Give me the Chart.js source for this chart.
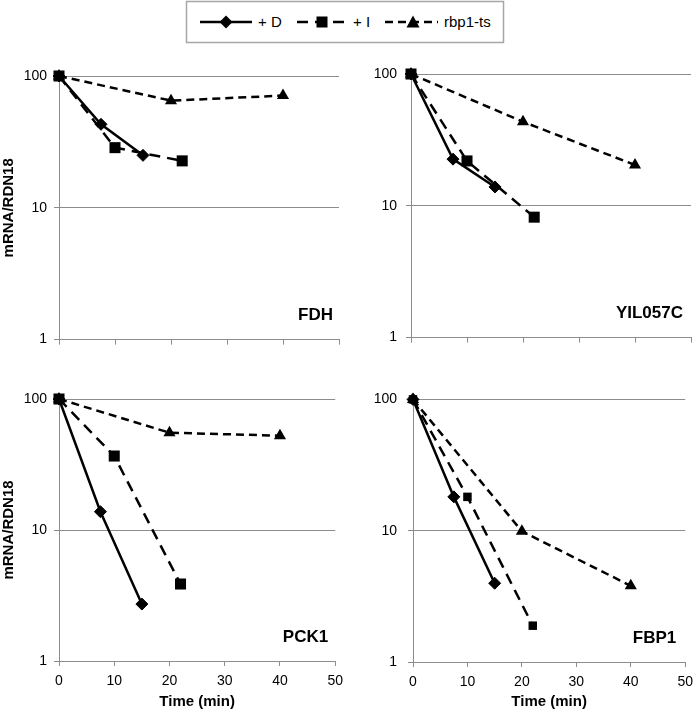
<!DOCTYPE html>
<html>
<head>
<meta charset="utf-8">
<script src="https://cdn.jsdelivr.net/npm/chart.js@4.4.1/dist/chart.umd.min.js"></script>
<style>
  body { margin: 0; background: #fff; }
  #page { position: relative; width: 700px; height: 715px; overflow: hidden; }
  canvas { position: absolute; }
  #legend { position: absolute; left: 0; top: 0; }
</style>
</head>
<body>
<div id="page">
  <svg id="legend" width="700" height="46"></svg>
  <canvas id="fdh" style="left:0;top:55px" width="350" height="300"></canvas>
  <canvas id="yil" style="left:350px;top:55px" width="350" height="300"></canvas>
  <canvas id="pck" style="left:0;top:380px" width="350" height="335"></canvas>
  <canvas id="fbp" style="left:350px;top:380px" width="350" height="335"></canvas>
</div>
<script>
// series names and time points (min)
const seriesNames = ['+ D', '+ I', 'rbp1-ts'];
const timeD = [0, 7.5, 15];
const timeI = [0, 10, 22];
const timeR = [0, 20, 40];

// mRNA/RDN18 values
const fdhD = [100, 43, 25];
const fdhI = [100, 28.6, 22.7];
const fdhR = [100, 65, 71];

const yilD = [100, 22.6, 13.9];
const yilI = [100, 21.9, 8.2];
const yilR = [100, 43.4, 20.4];

const pckD = [100, 13.8, 2.72];
const pckI = [100, 36.7, 3.87];
const pckR = [100, 55.3, 52.5];

const fbpD = [100, 18.1, 3.98];
const fbpI = [100, 18.1, 1.89];
const fbpR = [100, 9.9, 3.8];

const yTicks = [1, 10, 100];
const xTicks = [0, 10, 20, 30, 40, 50];

const FONT = '"Liberation Sans", Arial, Helvetica, sans-serif';
const GRID = '#8c8c8c';

// legend drawn as svg
function buildLegend() {
    const svg = document.getElementById('legend');
    const ns = 'http://www.w3.org/2000/svg';
    const add = (tag, attrs, text) => {
        const el = document.createElementNS(ns, tag);
        for (const k in attrs) el.setAttribute(k, attrs[k]);
        if (text) el.textContent = text;
        svg.appendChild(el);
        return el;
    };
    add('rect', {x: 186.5, y: 1.5, width: 317, height: 41, fill: '#fff', stroke: '#a6a6a6', 'stroke-width': 1.5});
    const cy = 22;
    const items = [
        {x1: 200, x2: 252, mx: 226, tx: 258, dash: null, marker: 'diamond'},
        {x1: 297, x2: 348, mx: 322, tx: 353, dash: '11 7', marker: 'square'},
        {x1: 385, x2: 438, mx: 413, tx: 444, dash: '8 5', marker: 'triangle'}
    ];
    items.forEach((it, i) => {
        const line = {x1: it.x1, x2: it.x2, y1: cy, y2: cy, stroke: '#000', 'stroke-width': 2.6};
        if (it.dash) line['stroke-dasharray'] = it.dash;
        add('line', line);
        if (it.marker === 'diamond') {
            add('polygon', {points: `${it.mx - 6.5},${cy} ${it.mx},${cy - 6.5} ${it.mx + 6.5},${cy} ${it.mx},${cy + 6.5}`, fill: '#000'});
        } else if (it.marker === 'square') {
            add('rect', {x: it.mx - 5.5, y: cy - 5.5, width: 11, height: 11, fill: '#000'});
        } else {
            add('polygon', {points: `${it.mx - 6.5},${cy + 5.5} ${it.mx},${cy - 6.5} ${it.mx + 6.5},${cy + 5.5}`, fill: '#000'});
        }
        add('text', {x: it.tx, y: cy + 5, 'font-family': FONT, 'font-size': 15, fill: '#000'}, seriesNames[i]);
    });
}

// gene name in the lower right corner of the plot
const geneLabel = {
    id: 'geneLabel',
    afterDatasetsDraw(chart, args, opts) {
        const {ctx, chartArea} = chart;
        ctx.save();
        ctx.font = 'bold 17px ' + FONT;
        ctx.fillStyle = '#000';
        ctx.textAlign = 'right';
        ctx.textBaseline = 'middle';
        ctx.fillText(opts.text, chartArea.right - opts.dx, chartArea.bottom - opts.dy);
        ctx.restore();
    }
};

function pts(xs, ys) {
    return xs.map((x, i) => ({x: x, y: ys[i]}));
}

function makePanel(id, gene, dVals, iVals, rVals, p) {
    new Chart(document.getElementById(id), {
        type: 'line',
        data: {
            datasets: [
                {
                    label: seriesNames[0], data: pts(timeD, dVals), order: 1, clip: false,
                    borderColor: '#000', backgroundColor: '#000', borderWidth: 2.5,
                    pointStyle: 'rectRot', pointRadius: 6, pointBorderWidth: 1
                },
                {
                    label: seriesNames[1], data: pts(timeI, iVals), order: 0, clip: false,
                    borderColor: '#000', backgroundColor: '#000', borderWidth: 2.5, borderDash: [11, 7],
                    pointStyle: 'rect', pointRadius: p.sq || 7.8, pointBorderWidth: 0
                },
                {
                    label: seriesNames[2], data: pts(timeR, rVals), order: 2, clip: false,
                    borderColor: '#000', backgroundColor: '#000', borderWidth: 2.5, borderDash: [8, 5],
                    pointStyle: 'triangle', pointRadius: 7, pointBorderWidth: 0
                }
            ]
        },
        options: {
            responsive: false,
            animation: false,
            layout: {padding: {top: p.top, right: p.right, left: 0, bottom: 0}},
            plugins: {
                legend: {display: false},
                tooltip: {enabled: false},
                geneLabel: {text: gene, dx: p.dx, dy: 24}
            },
            scales: {
                x: {
                    type: 'linear', min: 0, max: 50,
                    afterBuildTicks: (s) => { s.ticks = xTicks.map(v => ({value: v})); },
                    afterFit: (s) => { s.height = p.xh; },
                    grid: {drawOnChartArea: false, color: GRID, tickLength: 5, lineWidth: 1},
                    border: {color: GRID, width: 1},
                    ticks: {
                        display: p.xlabels, color: '#000', padding: 7,
                        font: {family: FONT, size: 14}, maxRotation: 0
                    },
                    title: {
                        display: p.xlabels, text: 'Time (min)', color: '#000',
                        font: {family: FONT, size: 15, weight: 'bold'}, padding: {top: 0, bottom: 4}
                    }
                },
                y: {
                    type: 'logarithmic', min: 1, max: 100,
                    afterBuildTicks: (s) => { s.ticks = yTicks.map(v => ({value: v})); },
                    afterFit: (s) => { s.width = p.yw; },
                    grid: {color: GRID, tickLength: 5, lineWidth: 1},
                    border: {color: GRID, width: 1},
                    ticks: {
                        color: '#000', padding: p.ypad,
                        font: {family: FONT, size: 14},
                        callback: (v) => String(v)
                    },
                    title: {
                        display: p.ytitle, text: 'mRNA/RDN18', color: '#000',
                        font: {family: FONT, size: 15, weight: 'bold'}, padding: {top: 0, bottom: 0}
                    }
                }
            }
        },
        plugins: [geneLabel]
    });
}

buildLegend();
makePanel('fdh', 'FDH', fdhD, fdhI, fdhR, {top: 21, right: 11, yw: 59, xh: 14, xlabels: false, ytitle: true, ypad: 7, dx: 6});
makePanel('yil', 'YIL057C', yilD, yilI, yilR, {top: 19, right: 9, yw: 61, xh: 14, xlabels: false, ytitle: false, ypad: 9, dx: 8});
makePanel('pck', 'PCK1', pckD, pckI, pckR, {top: 19, right: 11, yw: 59, xh: 54, xlabels: true, ytitle: true, ypad: 7, dx: 7});
makePanel('fbp', 'FBP1', fbpD, fbpI, fbpR, {top: 19, right: 8, yw: 63, xh: 53, xlabels: true, ytitle: false, ypad: 11, dx: 9, sq: 6});
</script>
</body>
</html>
